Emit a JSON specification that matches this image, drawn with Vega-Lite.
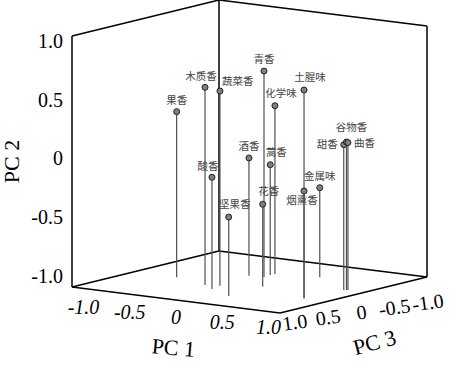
{
  "$schema": "https://vega.github.io/schema/vega-lite/v6.json",
  "width": 452,
  "height": 366,
  "autosize": {"type": "none"},
  "padding": 0,
  "background": "white",
  "config": {"view": {"stroke": null}},
  "datasets": {
    "points": [
      {"name": "果香", "pc1": -0.586, "pc2": 0.320, "pc3": 0.162},
      {"name": "木质香", "pc1": -0.205, "pc2": 0.575, "pc3": 0.315},
      {"name": "酸香", "pc1": -0.057, "pc2": -0.110, "pc3": 0.430},
      {"name": "蔬菜香", "pc1": -0.092, "pc2": 0.551, "pc3": 0.272},
      {"name": "坚果香", "pc1": 0.232, "pc2": -0.371, "pc3": 0.611},
      {"name": "酒香", "pc1": -0.167, "pc2": -0.062, "pc3": -0.229},
      {"name": "青香", "pc1": -0.038, "pc2": 0.641, "pc3": -0.251},
      {"name": "花香", "pc1": 0.206, "pc2": -0.343, "pc3": 0.112},
      {"name": "蒿香", "pc1": -0.050, "pc2": -0.121, "pc3": -0.353},
      {"name": "化学味", "pc1": -0.046, "pc2": 0.341, "pc3": -0.411},
      {"name": "土腥味", "pc1": 0.771, "pc2": 0.660, "pc3": 0.349},
      {"name": "烟熏香", "pc1": 0.771, "pc2": -0.145, "pc3": 0.349},
      {"name": "金属味", "pc1": 0.325, "pc2": -0.286, "pc3": -0.496},
      {"name": "甜香", "pc1": 0.808, "pc2": 0.158, "pc3": -0.139},
      {"name": "谷物香", "pc1": 0.825, "pc2": 0.179, "pc3": -0.152},
      {"name": "曲香", "pc1": 0.832, "pc2": 0.174, "pc3": -0.162}
    ],
    "edges": [
      {"a1": -1, "b1": -1, "c1": 1, "a2": -1, "b2": 1, "c2": 1},
      {"a1": -1, "b1": -1, "c1": 1, "a2": 1, "b2": -1, "c2": 1},
      {"a1": 1, "b1": -1, "c1": 1, "a2": 1, "b2": -1, "c2": -1},
      {"a1": 1, "b1": -1, "c1": -1, "a2": 1, "b2": 1, "c2": -1},
      {"a1": 1, "b1": 1, "c1": -1, "a2": -1, "b2": 1, "c2": -1},
      {"a1": -1, "b1": 1, "c1": -1, "a2": -1, "b2": 1, "c2": 1},
      {"a1": -1, "b1": 1, "c1": -1, "a2": -1, "b2": -1, "c2": -1},
      {"a1": -1, "b1": -1, "c1": 1, "a2": -1, "b2": -1, "c2": -1},
      {"a1": -1, "b1": -1, "c1": -1, "a2": 1, "b2": -1, "c2": -1}
    ],
    "ticks": [
      {"axis": "PC1", "v": -1, "t": "-1.0"},
      {"axis": "PC1", "v": -0.5, "t": "-0.5"},
      {"axis": "PC1", "v": 0, "t": "0"},
      {"axis": "PC1", "v": 0.5, "t": "0.5"},
      {"axis": "PC1", "v": 1, "t": "1.0"},
      {"axis": "PC2", "v": -1, "t": "-1.0"},
      {"axis": "PC2", "v": -0.5, "t": "-0.5"},
      {"axis": "PC2", "v": 0, "t": "0"},
      {"axis": "PC2", "v": 0.5, "t": "0.5"},
      {"axis": "PC2", "v": 1, "t": "1.0"},
      {"axis": "PC3", "v": -1, "t": "-1.0"},
      {"axis": "PC3", "v": -0.5, "t": "-0.5"},
      {"axis": "PC3", "v": 0, "t": "0"},
      {"axis": "PC3", "v": 0.5, "t": "0.5"},
      {"axis": "PC3", "v": 1, "t": "1.0"},
      {"axis": "T1", "v": 0, "t": "PC 1"},
      {"axis": "T2", "v": 0, "t": "PC 2"},
      {"axis": "T3", "v": 0, "t": "PC 3"}
    ]
  },
  "layer": [
    {
      "data": {"name": "edges"},
      "transform": [
        {"calculate": "0.8287*datum.a1 - 0.5857*datum.c1", "as": "sx"},
        {"calculate": "datum.b1 - 0.1036*datum.a1 - 0.1434*datum.c1", "as": "sy"},
        {"calculate": "0.8287*datum.a2 - 0.5857*datum.c2", "as": "sx2"},
        {"calculate": "datum.b2 - 0.1036*datum.a2 - 0.1434*datum.c2", "as": "sy2"}
      ],
      "mark": {"type": "rule", "color": "#000000", "strokeWidth": 1.5},
      "encoding": {
        "x": {"field": "sx", "type": "quantitative", "scale": {"domain": [-1.98805, 1.61355], "nice": false, "zero": false}, "axis": null},
        "y": {"field": "sy", "type": "quantitative", "scale": {"domain": [-1.66932, 1.24701], "nice": false, "zero": false}, "axis": null},
        "x2": {"field": "sx2"},
        "y2": {"field": "sy2"}
      }
    },
    {
      "data": {"name": "points"},
      "transform": [
        {"calculate": "0.8287*datum.pc1 - 0.5857*datum.pc3", "as": "sx"},
        {"calculate": "-1 - 0.1036*datum.pc1 - 0.1434*datum.pc3", "as": "sy"},
        {"calculate": "datum.pc2 - 0.1036*datum.pc1 - 0.1434*datum.pc3", "as": "sy2"}
      ],
      "mark": {"type": "rule", "color": "#505050", "strokeWidth": 1.2},
      "encoding": {
        "x": {"field": "sx", "type": "quantitative", "scale": {"domain": [-1.98805, 1.61355], "nice": false, "zero": false}, "axis": null},
        "y": {"field": "sy", "type": "quantitative", "scale": {"domain": [-1.66932, 1.24701], "nice": false, "zero": false}, "axis": null},
        "y2": {"field": "sy2"}
      }
    },
    {
      "data": {"name": "points"},
      "transform": [
        {"calculate": "0.8287*datum.pc1 - 0.5857*datum.pc3", "as": "sx"},
        {"calculate": "datum.pc2 - 0.1036*datum.pc1 - 0.1434*datum.pc3", "as": "sy"}
      ],
      "mark": {"type": "point", "shape": "circle", "filled": true, "fill": "#808080", "stroke": "#222222", "strokeWidth": 1, "size": 36, "opacity": 1},
      "encoding": {
        "x": {"field": "sx", "type": "quantitative", "scale": {"domain": [-1.98805, 1.61355], "nice": false, "zero": false}, "axis": null},
        "y": {"field": "sy", "type": "quantitative", "scale": {"domain": [-1.66932, 1.24701], "nice": false, "zero": false}, "axis": null}
      }
    },
    {
      "data": {"name": "points"},
      "transform": [
        {"filter": {"field": "name", "oneOf": ["果香", "青香", "酒香", "金属味"]}},
        {"calculate": "0.8287*datum.pc1 - 0.5857*datum.pc3", "as": "sx"},
        {"calculate": "datum.pc2 - 0.1036*datum.pc1 - 0.1434*datum.pc3", "as": "sy"}
      ],
      "mark": {"type": "text", "font": "Noto Sans CJK SC", "fontSize": 10.5, "color": "#444444", "align": "center", "baseline": "middle", "dy": -11},
      "encoding": {
        "x": {"field": "sx", "type": "quantitative", "scale": {"domain": [-1.98805, 1.61355], "nice": false, "zero": false}, "axis": null},
        "y": {"field": "sy", "type": "quantitative", "scale": {"domain": [-1.66932, 1.24701], "nice": false, "zero": false}, "axis": null},
        "text": {"field": "name"}
      }
    },
    {
      "data": {"name": "points"},
      "transform": [
        {"filter": {"field": "name", "oneOf": ["木质香", "酸香"]}},
        {"calculate": "0.8287*datum.pc1 - 0.5857*datum.pc3", "as": "sx"},
        {"calculate": "datum.pc2 - 0.1036*datum.pc1 - 0.1434*datum.pc3", "as": "sy"}
      ],
      "mark": {"type": "text", "font": "Noto Sans CJK SC", "fontSize": 10.5, "color": "#444444", "align": "center", "baseline": "middle", "dx": -4, "dy": -10},
      "encoding": {
        "x": {"field": "sx", "type": "quantitative", "scale": {"domain": [-1.98805, 1.61355], "nice": false, "zero": false}, "axis": null},
        "y": {"field": "sy", "type": "quantitative", "scale": {"domain": [-1.66932, 1.24701], "nice": false, "zero": false}, "axis": null},
        "text": {"field": "name"}
      }
    },
    {
      "data": {"name": "points"},
      "transform": [
        {"filter": {"field": "name", "oneOf": ["土腥味", "化学味", "蒿香", "花香", "坚果香"]}},
        {"calculate": "0.8287*datum.pc1 - 0.5857*datum.pc3", "as": "sx"},
        {"calculate": "datum.pc2 - 0.1036*datum.pc1 - 0.1434*datum.pc3", "as": "sy"}
      ],
      "mark": {"type": "text", "font": "Noto Sans CJK SC", "fontSize": 10.5, "color": "#444444", "align": "center", "baseline": "middle", "dx": 6, "dy": -12},
      "encoding": {
        "x": {"field": "sx", "type": "quantitative", "scale": {"domain": [-1.98805, 1.61355], "nice": false, "zero": false}, "axis": null},
        "y": {"field": "sy", "type": "quantitative", "scale": {"domain": [-1.66932, 1.24701], "nice": false, "zero": false}, "axis": null},
        "text": {"field": "name"}
      }
    },
    {
      "data": {"name": "points"},
      "transform": [
        {"filter": {"field": "name", "oneOf": ["谷物香"]}},
        {"calculate": "0.8287*datum.pc1 - 0.5857*datum.pc3", "as": "sx"},
        {"calculate": "datum.pc2 - 0.1036*datum.pc1 - 0.1434*datum.pc3", "as": "sy"}
      ],
      "mark": {"type": "text", "font": "Noto Sans CJK SC", "fontSize": 10.5, "color": "#444444", "align": "center", "baseline": "middle", "dx": 5, "dy": -14},
      "encoding": {
        "x": {"field": "sx", "type": "quantitative", "scale": {"domain": [-1.98805, 1.61355], "nice": false, "zero": false}, "axis": null},
        "y": {"field": "sy", "type": "quantitative", "scale": {"domain": [-1.66932, 1.24701], "nice": false, "zero": false}, "axis": null},
        "text": {"field": "name"}
      }
    },
    {
      "data": {"name": "points"},
      "transform": [
        {"filter": {"field": "name", "oneOf": ["蔬菜香"]}},
        {"calculate": "0.8287*datum.pc1 - 0.5857*datum.pc3", "as": "sx"},
        {"calculate": "datum.pc2 - 0.1036*datum.pc1 - 0.1434*datum.pc3", "as": "sy"}
      ],
      "mark": {"type": "text", "font": "Noto Sans CJK SC", "fontSize": 10.5, "color": "#444444", "align": "left", "baseline": "middle", "dx": 2, "dy": -9},
      "encoding": {
        "x": {"field": "sx", "type": "quantitative", "scale": {"domain": [-1.98805, 1.61355], "nice": false, "zero": false}, "axis": null},
        "y": {"field": "sy", "type": "quantitative", "scale": {"domain": [-1.66932, 1.24701], "nice": false, "zero": false}, "axis": null},
        "text": {"field": "name"}
      }
    },
    {
      "data": {"name": "points"},
      "transform": [
        {"filter": {"field": "name", "oneOf": ["曲香"]}},
        {"calculate": "0.8287*datum.pc1 - 0.5857*datum.pc3", "as": "sx"},
        {"calculate": "datum.pc2 - 0.1036*datum.pc1 - 0.1434*datum.pc3", "as": "sy"}
      ],
      "mark": {"type": "text", "font": "Noto Sans CJK SC", "fontSize": 10.5, "color": "#444444", "align": "left", "baseline": "middle", "dx": 6, "dy": 1},
      "encoding": {
        "x": {"field": "sx", "type": "quantitative", "scale": {"domain": [-1.98805, 1.61355], "nice": false, "zero": false}, "axis": null},
        "y": {"field": "sy", "type": "quantitative", "scale": {"domain": [-1.66932, 1.24701], "nice": false, "zero": false}, "axis": null},
        "text": {"field": "name"}
      }
    },
    {
      "data": {"name": "points"},
      "transform": [
        {"filter": {"field": "name", "oneOf": ["甜香"]}},
        {"calculate": "0.8287*datum.pc1 - 0.5857*datum.pc3", "as": "sx"},
        {"calculate": "datum.pc2 - 0.1036*datum.pc1 - 0.1434*datum.pc3", "as": "sy"}
      ],
      "mark": {"type": "text", "font": "Noto Sans CJK SC", "fontSize": 10.5, "color": "#444444", "align": "right", "baseline": "middle", "dx": -6, "dy": 0},
      "encoding": {
        "x": {"field": "sx", "type": "quantitative", "scale": {"domain": [-1.98805, 1.61355], "nice": false, "zero": false}, "axis": null},
        "y": {"field": "sy", "type": "quantitative", "scale": {"domain": [-1.66932, 1.24701], "nice": false, "zero": false}, "axis": null},
        "text": {"field": "name"}
      }
    },
    {
      "data": {"name": "points"},
      "transform": [
        {"filter": {"field": "name", "oneOf": ["烟熏香"]}},
        {"calculate": "0.8287*datum.pc1 - 0.5857*datum.pc3", "as": "sx"},
        {"calculate": "datum.pc2 - 0.1036*datum.pc1 - 0.1434*datum.pc3", "as": "sy"}
      ],
      "mark": {"type": "text", "font": "Noto Sans CJK SC", "fontSize": 10.5, "color": "#444444", "align": "center", "baseline": "middle", "dx": -2, "dy": 10},
      "encoding": {
        "x": {"field": "sx", "type": "quantitative", "scale": {"domain": [-1.98805, 1.61355], "nice": false, "zero": false}, "axis": null},
        "y": {"field": "sy", "type": "quantitative", "scale": {"domain": [-1.66932, 1.24701], "nice": false, "zero": false}, "axis": null},
        "text": {"field": "name"}
      }
    },
    {
      "data": {"name": "ticks"},
      "transform": [
        {"filter": "datum.axis === 'PC1'"},
        {"calculate": "-0.5857 + 0.737*datum.v", "as": "sx"},
        {"calculate": "-1.2892 - 0.0797*datum.v", "as": "sy"}
      ],
      "mark": {"type": "text", "font": "Liberation Serif", "fontSize": 20, "fontStyle": "italic", "color": "#000000", "align": "center", "baseline": "middle"},
      "encoding": {
        "x": {"field": "sx", "type": "quantitative", "scale": {"domain": [-1.98805, 1.61355], "nice": false, "zero": false}, "axis": null},
        "y": {"field": "sy", "type": "quantitative", "scale": {"domain": [-1.66932, 1.24701], "nice": false, "zero": false}, "axis": null},
        "text": {"field": "t"}
      }
    },
    {
      "data": {"name": "ticks"},
      "transform": [
        {"filter": "datum.axis === 'PC3'"},
        {"calculate": "0.8924 - 0.5299*datum.v", "as": "sx"},
        {"calculate": "-1.2486 - 0.0785*datum.v", "as": "sy"}
      ],
      "mark": {"type": "text", "font": "Liberation Serif", "fontSize": 20, "color": "#000000", "align": "center", "baseline": "middle", "angle": -8},
      "encoding": {
        "x": {"field": "sx", "type": "quantitative", "scale": {"domain": [-1.98805, 1.61355], "nice": false, "zero": false}, "axis": null},
        "y": {"field": "sy", "type": "quantitative", "scale": {"domain": [-1.66932, 1.24701], "nice": false, "zero": false}, "axis": null},
        "text": {"field": "t"}
      }
    },
    {
      "data": {"name": "ticks"},
      "transform": [
        {"filter": "datum.axis === 'PC2'"},
        {"calculate": "-1.4144", "as": "sx"},
        {"calculate": "-0.0239 + 0.9323*datum.v", "as": "sy"}
      ],
      "mark": {"type": "text", "font": "Liberation Serif", "fontSize": 20, "color": "#000000", "align": "right", "baseline": "middle", "dx": -9},
      "encoding": {
        "x": {"field": "sx", "type": "quantitative", "scale": {"domain": [-1.98805, 1.61355], "nice": false, "zero": false}, "axis": null},
        "y": {"field": "sy", "type": "quantitative", "scale": {"domain": [-1.66932, 1.24701], "nice": false, "zero": false}, "axis": null},
        "text": {"field": "t"}
      }
    },
    {
      "data": {"name": "ticks"},
      "transform": [
        {"filter": "datum.axis === 'T1'"},
        {"calculate": "-0.5857 + 0.737*datum.v", "as": "sx"},
        {"calculate": "-1.2892 - 0.0797*datum.v", "as": "sy"}
      ],
      "mark": {"type": "text", "font": "Liberation Serif", "fontSize": 22, "color": "#000000", "align": "center", "baseline": "middle", "angle": 5, "dx": 0, "dy": 30},
      "encoding": {
        "x": {"field": "sx", "type": "quantitative", "scale": {"domain": [-1.98805, 1.61355], "nice": false, "zero": false}, "axis": null},
        "y": {"field": "sy", "type": "quantitative", "scale": {"domain": [-1.66932, 1.24701], "nice": false, "zero": false}, "axis": null},
        "text": {"field": "t"}
      }
    },
    {
      "data": {"name": "ticks"},
      "transform": [
        {"filter": "datum.axis === 'T3'"},
        {"calculate": "0.8924 - 0.5299*datum.v", "as": "sx"},
        {"calculate": "-1.2486 - 0.0785*datum.v", "as": "sy"}
      ],
      "mark": {"type": "text", "font": "Liberation Serif", "fontSize": 22, "color": "#000000", "align": "center", "baseline": "middle", "angle": -15, "dx": 5, "dy": 32},
      "encoding": {
        "x": {"field": "sx", "type": "quantitative", "scale": {"domain": [-1.98805, 1.61355], "nice": false, "zero": false}, "axis": null},
        "y": {"field": "sy", "type": "quantitative", "scale": {"domain": [-1.66932, 1.24701], "nice": false, "zero": false}, "axis": null},
        "text": {"field": "t"}
      }
    },
    {
      "data": {"name": "ticks"},
      "transform": [
        {"filter": "datum.axis === 'T2'"},
        {"calculate": "-1.4144", "as": "sx"},
        {"calculate": "-0.0239 + 0.9323*datum.v", "as": "sy"}
      ],
      "mark": {"type": "text", "font": "Liberation Serif", "fontSize": 22, "color": "#000000", "align": "center", "baseline": "middle", "angle": -90, "dx": -2, "dy": -60},
      "encoding": {
        "x": {"field": "sx", "type": "quantitative", "scale": {"domain": [-1.98805, 1.61355], "nice": false, "zero": false}, "axis": null},
        "y": {"field": "sy", "type": "quantitative", "scale": {"domain": [-1.66932, 1.24701], "nice": false, "zero": false}, "axis": null},
        "text": {"field": "t"}
      }
    }
  ]
}
